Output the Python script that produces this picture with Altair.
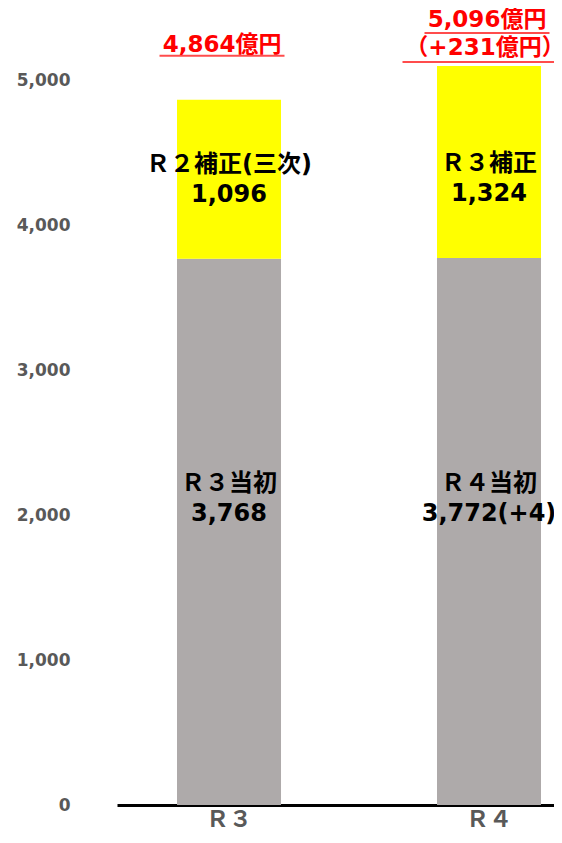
import altair as alt
import pandas as pd

categories = ["Ｒ３", "Ｒ４"]
base_values = [3768, 3772]
supp_values = [1096, 1324]
base_names = ["Ｒ３当初", "Ｒ４当初"]
base_value_labels = ["3,768", "3,772(+4)"]
supp_names = ["Ｒ２補正(三次)", "Ｒ３補正"]
supp_value_labels = ["1,096", "1,324"]
total_labels = ["4,864億円", "5,096億円"]
diff_labels = ["", "（+231億円）"]
y_ticks = [0, 1000, 2000, 3000, 4000, 5000]

df = pd.DataFrame({
    "cat": categories,
    "base": base_values,
    "supp": supp_values,
    "base_name": base_names,
    "base_lbl": base_value_labels,
    "supp_name": supp_names,
    "supp_lbl": supp_value_labels,
    "total_lbl": total_labels,
    "diff_lbl": diff_labels,
})
df["total"] = df["base"] + df["supp"]

FONT = "DejaVu Sans, Noto Sans CJK JP, sans-serif"

x = alt.X(
    "cat:N",
    sort=categories,
    scale=alt.Scale(paddingInner=0.6, paddingOuter=0.1404, align=0.822),
    axis=alt.Axis(
        title=None, labelAngle=0, ticks=False, domainColor="black", domainWidth=3,
        labelFont=FONT, labelFontSize=23, labelFontWeight="bold", labelColor="#595959",
        labelPadding=3,
    ),
)
yscale = alt.Scale(domain=[0, 5000], nice=False)
y_axis = alt.Axis(
    title=None, values=y_ticks, format=",d", grid=False, domain=False, ticks=False,
    labelFont=FONT, labelFontSize=17, labelFontWeight="bold", labelColor="#595959",
    labelPadding=47,
)

base = alt.Chart(df)

bar_base = base.mark_bar(color="#AEAAAA").encode(
    x=x, y=alt.Y("base:Q", scale=yscale, axis=y_axis), y2=alt.datum(0)
)
bar_supp = base.mark_bar(color="#FFFF00").encode(
    x=x, y=alt.Y("total:Q", scale=yscale), y2="base:Q"
)

txt = dict(font=FONT, fontSize=24, fontWeight="bold", color="black", baseline="middle", align="center")

supp_name_t = base.mark_text(dy=-94, **txt).encode(x=x, y=alt.Y("base:Q", scale=yscale), text="supp_name:N")
supp_lbl_t = base.mark_text(dy=-64, **txt).encode(x=x, y=alt.Y("base:Q", scale=yscale), text="supp_lbl:N")
base_name_t = base.mark_text(dy=-321, **txt).encode(x=x, y=alt.datum(0), text="base_name:N")
base_lbl_t = base.mark_text(dy=-291, **txt).encode(x=x, y=alt.datum(0), text="base_lbl:N")

red = dict(font=FONT, fontSize=23, fontWeight="bold", color="#FF0000", baseline="middle", align="center")

r3 = base.transform_filter(alt.datum.cat == categories[0])
r4 = base.transform_filter(alt.datum.cat == categories[1])

r3_total = r3.mark_text(dx=-7, dy=-55, **red).encode(x=x, y=alt.Y("total:Q", scale=yscale), text="total_lbl:N")
r3_ul = r3.mark_tick(orient="horizontal", size=125, thickness=2, color="#FF0000", xOffset=-7, yOffset=-44).encode(
    x=x, y=alt.Y("total:Q", scale=yscale))
r4_total = r4.mark_text(dx=-2, dy=-46, **red).encode(x=x, y=alt.Y("total:Q", scale=yscale), text="total_lbl:N")
r4_diff = r4.mark_text(dx=-4, dy=-18, **red).encode(x=x, y=alt.Y("total:Q", scale=yscale), text="diff_lbl:N")
r4_ul1 = r4.mark_tick(orient="horizontal", size=125, thickness=2, color="#FF0000", xOffset=-2, yOffset=-33).encode(
    x=x, y=alt.Y("total:Q", scale=yscale))
r4_ul2 = r4.mark_tick(orient="horizontal", size=159, thickness=2, color="#FF0000", xOffset=-7, yOffset=-4).encode(
    x=x, y=alt.Y("total:Q", scale=yscale))

chart = alt.layer(
    bar_base, bar_supp, supp_name_t, supp_lbl_t, base_name_t, base_lbl_t,
    r3_total, r3_ul, r4_total, r4_diff, r4_ul1, r4_ul2,
).properties(
    width=437, height=725,
    autosize=alt.AutoSizeParams(type="none"),
    padding={"left": 109, "top": 72, "right": 0, "bottom": 27},
).configure_view(stroke=None)

chart.save("out.html", embed_options={"renderer": "svg", "actions": False})
